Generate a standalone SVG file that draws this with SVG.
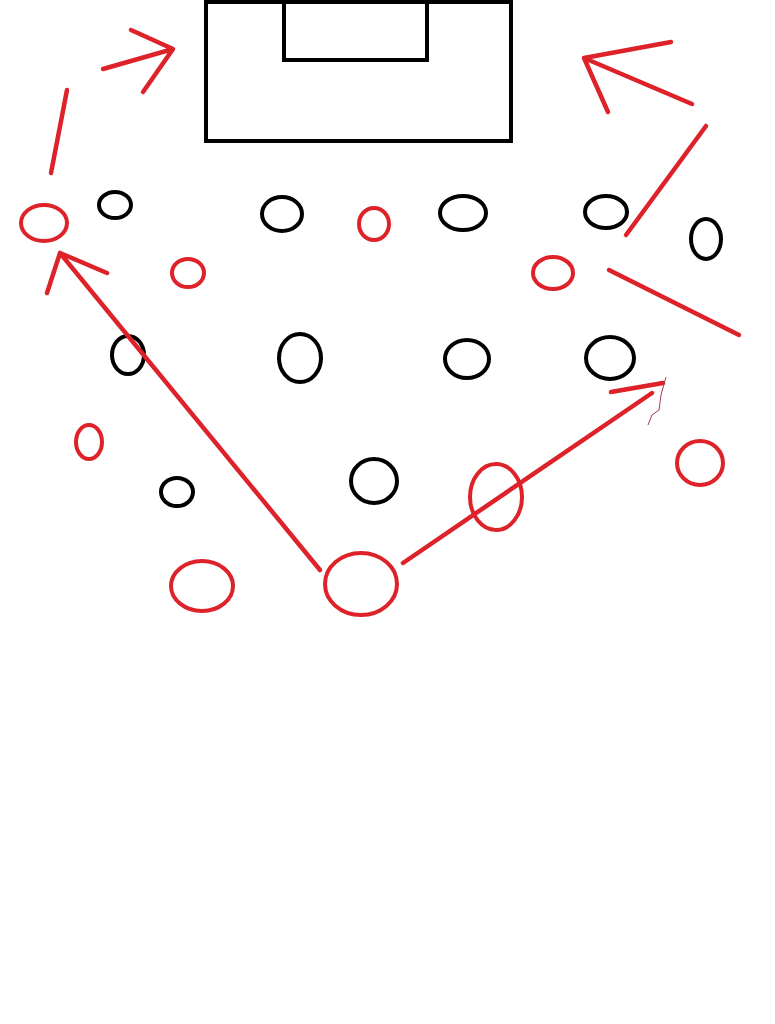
<svg xmlns="http://www.w3.org/2000/svg" width="775" height="1024" viewBox="0 0 775 1024">
<style>
.blk{fill:none;stroke:#000;stroke-width:4}
.red{fill:none;stroke:#dd2229;stroke-width:4}
.ln{fill:none;stroke:#dd2229;stroke-width:4.5;stroke-linecap:round;stroke-linejoin:round}
</style>
<rect width="775" height="1024" fill="#fff"/>
<g id="goal">
<rect class="blk" x="206" y="2" width="305" height="139"/>
<rect class="blk" x="284" y="2" width="143" height="58"/>
</g>
<g id="defenders">
<ellipse class="blk" cx="115" cy="205" rx="16" ry="13"/>
<ellipse class="blk" cx="282" cy="214" rx="20" ry="17"/>
<ellipse class="blk" cx="463" cy="213" rx="23" ry="17"/>
<ellipse class="blk" cx="606" cy="212" rx="21" ry="16"/>
<ellipse class="blk" cx="706" cy="239" rx="15" ry="20"/>
<ellipse class="blk" cx="128" cy="355" rx="16" ry="19"/>
<ellipse class="blk" cx="300" cy="358" rx="21" ry="24"/>
<ellipse class="blk" cx="467" cy="359" rx="22" ry="19"/>
<ellipse class="blk" cx="610" cy="358" rx="24" ry="21"/>
<ellipse class="blk" cx="177" cy="492" rx="16" ry="14"/>
<ellipse class="blk" cx="374" cy="481" rx="23" ry="22"/>
</g>
<g id="attackers">
<ellipse class="red" cx="44" cy="223" rx="23" ry="18"/>
<ellipse class="red" cx="188" cy="273" rx="16" ry="14"/>
<ellipse class="red" cx="374" cy="224" rx="15" ry="16"/>
<ellipse class="red" cx="553" cy="273" rx="20" ry="16"/>
<ellipse class="red" cx="89" cy="442" rx="13" ry="17"/>
<ellipse class="red" cx="700" cy="463" rx="23" ry="22"/>
<ellipse class="red" cx="496" cy="497" rx="26" ry="33"/>
<ellipse class="red" cx="202" cy="586" rx="31" ry="25"/>
<ellipse class="red" cx="361" cy="584" rx="36" ry="31"/>
</g>
<g id="connectors">
<path class="ln" d="M51,173 L67,90"/>
<path class="ln" d="M103,69 L173,49 M131,30 L173,49 L143,92"/>
<path class="ln" d="M626,235 L706,126"/>
<path class="ln" d="M692,104 L584,58 M671,42 L584,58 L608,112"/>
<path class="ln" d="M609,270 L739,335"/>
<path class="ln" d="M320,570 L60,253 M107,273 L60,253 L47,293"/>
<path class="ln" d="M403,563 L652,393 M611,392 L663,383"/>
<path d="M666,377 L661,395 L659,410 L652,415 L648,425" fill="none" stroke="#a83a4a" stroke-width="1"/>
</g>
</svg>
